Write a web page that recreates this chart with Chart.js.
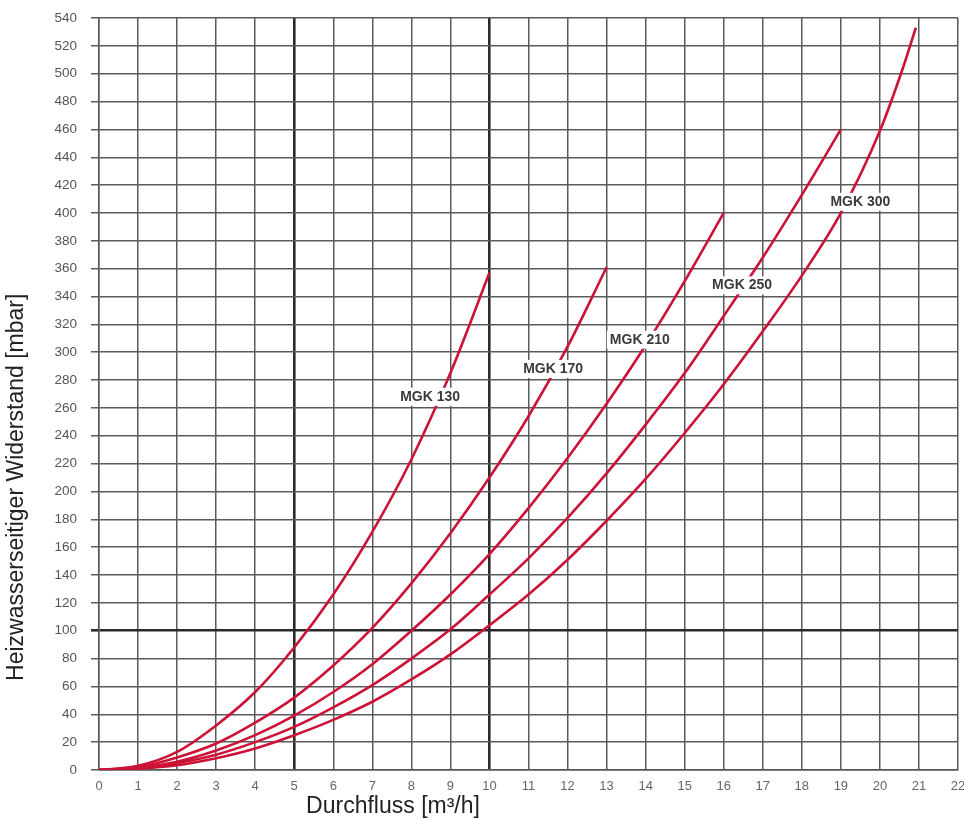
<!DOCTYPE html>
<html>
<head>
<meta charset="utf-8">
<script src="https://cdn.jsdelivr.net/npm/chart.js@4/dist/chart.umd.min.js"></script>
<style>
  html, body { margin: 0; padding: 0; background: #fff; }
  #wrap { width: 964px; height: 820px; position: relative; }
</style>
</head>
<body>
<div id="wrap"><canvas id="canvas"></canvas></div>
<script>
const canvas = document.getElementById("canvas");

// curves: x = Durchfluss [m3/h], y = Widerstand [mbar]
const mgk130X = [0, 1, 2, 3, 4, 5, 6, 7, 8, 9, 10];
const mgk130Y = [0, 3, 13, 32, 56, 88, 126, 171, 223, 285, 357];

const mgk170X = [0, 1, 2, 3, 4, 5, 6, 7, 8, 9, 10, 11, 12, 13];
const mgk170Y = [0, 2, 9, 19, 34, 52, 75, 102, 134, 170, 210, 254, 304, 361];

const mgk210X = [0, 1, 2, 3, 4, 5, 6, 7, 8, 9, 10, 11, 12, 13, 14, 15, 16];
const mgk210Y = [0, 1.6, 6, 14, 25, 39, 56, 76, 100, 126, 155, 188, 224, 263, 305, 351, 400];

const mgk250X = [0, 1, 2, 3, 4, 5, 6, 7, 8, 9, 10, 11, 12, 13, 14, 15, 16, 17, 18, 19];
const mgk250Y = [0, 1.2, 5, 11, 20, 31, 45, 61, 80, 101, 126, 152, 181, 213, 248, 285, 326, 368, 413, 460];

const mgk300X = [0, 1, 2, 3, 4, 5, 6, 7, 8, 9, 10, 11, 12, 13, 14, 15, 16, 17, 18, 19, 20, 20.6, 20.92];
const mgk300Y = [0, 1, 3.5, 8.5, 15.5, 25, 36, 49, 65, 83, 104, 126, 151, 179, 209, 242, 277, 315, 355, 400, 459, 505, 533];

const seriesNames = ["MGK 130", "MGK 170", "MGK 210", "MGK 250", "MGK 300"];
// label anchor (data coords) for each curve name
const labelX = [8.48, 11.63, 13.85, 16.47, 19.5];
const labelY = [268, 288, 309, 348, 408];

const xTitle = "Durchfluss [m³/h]";
const yTitle = "Heizwasserseitiger Widerstand [mbar]";

const lineColor = "#cc1237";

function toPoints(xs, ys) {
  return xs.map((x, i) => ({ x: x, y: ys[i] }));
}

const allX = [mgk130X, mgk170X, mgk210X, mgk250X, mgk300X];
const allY = [mgk130Y, mgk170Y, mgk210Y, mgk250Y, mgk300Y];

const datasets = seriesNames.map((name, i) => ({
  label: name,
  data: toPoints(allX[i], allY[i]),
  borderColor: lineColor,
  borderWidth: 2.6,
  pointRadius: 0,
  cubicInterpolationMode: "monotone",
  fill: false
}));

const curveLabels = {
  id: "curveLabels",
  afterDatasetsDraw(chart) {
    const ctx = chart.ctx;
    const xs = chart.scales.x;
    const ys = chart.scales.y;
    ctx.save();
    ctx.font = "bold 14px 'Liberation Sans', Arial, sans-serif";
    ctx.textAlign = "center";
    ctx.textBaseline = "middle";
    seriesNames.forEach((name, i) => {
      const px = xs.getPixelForValue(labelX[i]);
      const py = ys.getPixelForValue(labelY[i]);
      const w = ctx.measureText(name).width;
      ctx.fillStyle = "#fff";
      ctx.fillRect(px - w / 2 - 3, py - 9, w + 6, 18);
      ctx.fillStyle = "#3a3a3a";
      ctx.fillText(name, px, py);
    });
    ctx.restore();
  },
  afterDraw(chart) {
    const ctx = chart.ctx;
    const xs = chart.scales.x;
    const ys = chart.scales.y;
    ctx.save();
    ctx.fillStyle = "#222";
    ctx.font = "23px 'Liberation Sans', Arial, sans-serif";
    ctx.textAlign = "center";
    ctx.textBaseline = "middle";
    ctx.fillText(xTitle, xs.getPixelForValue(7.53), 807);
    ctx.translate(17, ys.getPixelForValue(203));
    ctx.rotate(-Math.PI / 2);
    ctx.fillText(yTitle, 0, 0);
    ctx.restore();
  }
};

function init() {
  new Chart(canvas, {
    type: "line",
    data: { datasets: datasets },
    options: {
      responsive: true,
      maintainAspectRatio: false,
      animation: false,
      layout: { padding: { top: 18, right: 6, left: 0, bottom: 0 } },
      plugins: {
        legend: { display: false },
        tooltip: { enabled: false }
      },
      scales: {
        x: {
          type: "linear",
          min: 0,
          max: 22,
          afterFit: s => { s.height = 50; s.paddingLeft = 0; s.paddingRight = 0; },
          border: { display: true, color: "#555", width: 1.4 },
          grid: {
            drawTicks: false,
            color: ctx => (ctx.tick.value === 5 || ctx.tick.value === 10) ? "#2a2a2a" : "#5a5a5a",
            lineWidth: ctx => (ctx.tick.value === 5 || ctx.tick.value === 10) ? 2.6 : 1.5
          },
          ticks: {
            stepSize: 1,
            padding: 9,
            color: "#666",
            font: { size: 13, family: "'Liberation Sans', Arial, sans-serif" }
          }
        },
        y: {
          min: 0,
          max: 540,
          afterFit: s => { s.width = 99; s.paddingTop = 0; s.paddingBottom = 0; },
          border: { display: true, color: "#555", width: 1.4 },
          grid: {
            tickLength: 8,
            color: ctx => ctx.tick.value === 100 ? "#2a2a2a" : "#5a5a5a",
            lineWidth: ctx => ctx.tick.value === 100 ? 2.6 : 1.5
          },
          ticks: {
            stepSize: 20,
            padding: 14,
            color: "#555",
            font: { size: 13.5, family: "'Liberation Sans', Arial, sans-serif" }
          }
        }
      }
    },
    plugins: [curveLabels]
  });
}

document.addEventListener("DOMContentLoaded", init);
</script>
</body>
</html>
